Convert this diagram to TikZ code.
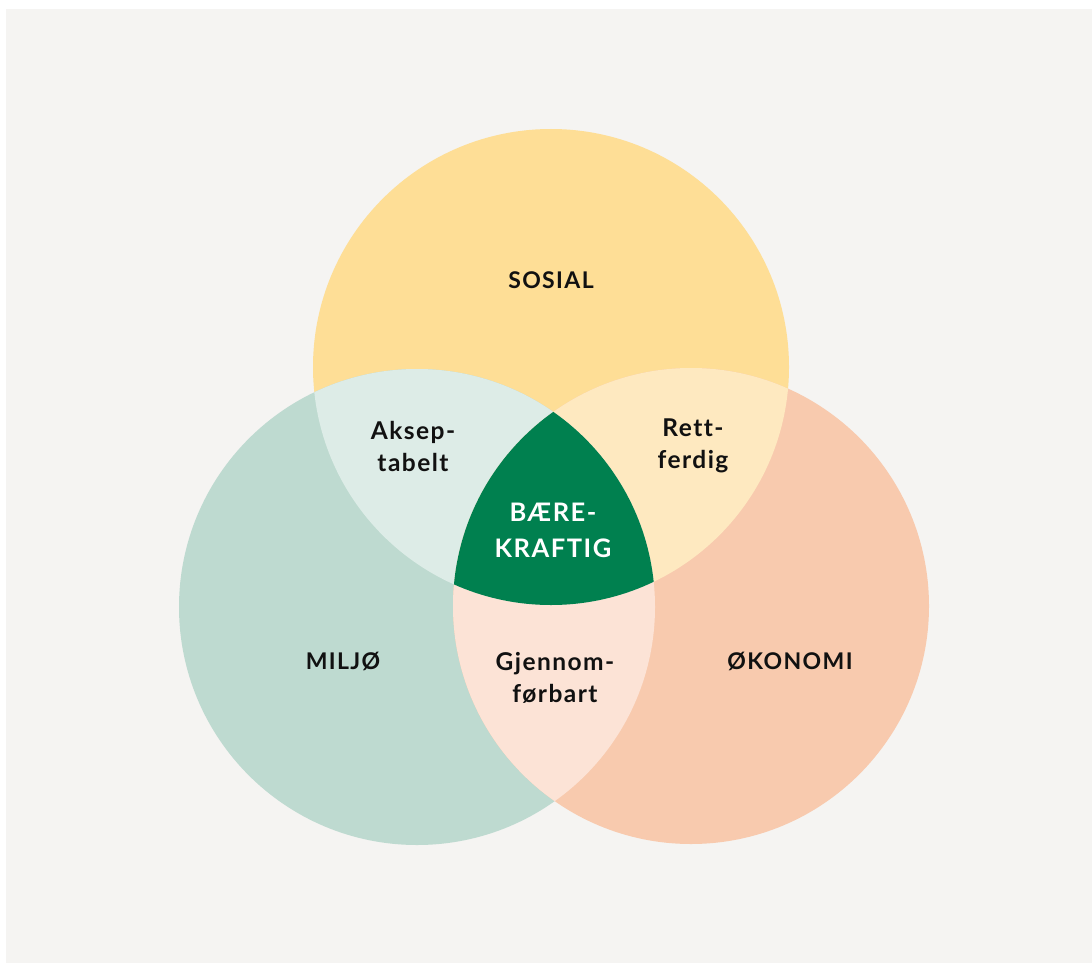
\documentclass[tikz,border=0pt]{standalone}
\usepackage{fontspec}
\setmainfont{Lato}[UprightFont=* Bold, LetterSpace=6, Ligatures={NoCommon}]
\definecolor{bg}{HTML}{F5F4F2}
\definecolor{csos}{HTML}{FEDE96}
\definecolor{cmil}{HTML}{BEDAD0}
\definecolor{coko}{HTML}{F8CAAE}
\definecolor{csm}{HTML}{DDECE7}
\definecolor{cso}{HTML}{FEE9C0}
\definecolor{cmo}{HTML}{FCE3D6}
\definecolor{cmid}{HTML}{00804F}
\definecolor{ink}{HTML}{111111}
\begin{document}
\begin{tikzpicture}[x=1pt,y=-1pt,
  lbl/.style={text=ink,font=\fontsize{23}{32}\selectfont,align=center,inner sep=0pt},
  sublbl/.style={text=ink,font=\fontsize{24.5}{32}\selectfont,align=center,inner sep=0pt},
  midlbl/.style={text=white,font=\fontsize{25.5}{36}\selectfont,align=center,inner sep=0pt}]
\useasboundingbox (0,0) rectangle (1092,963);
\fill[bg] (6,9) rectangle (1092,963);
\coordinate (S) at (551,367);
\coordinate (M) at (417,607);
\coordinate (O) at (691,606);
\def\R{238}
\fill[csos] (S) circle (\R);
\fill[cmil] (M) circle (\R);
\fill[coko] (O) circle (\R);
\begin{scope}\clip (S) circle (\R); \fill[csm] (M) circle (\R);\end{scope}
\begin{scope}\clip (S) circle (\R); \fill[cso] (O) circle (\R);\end{scope}
\begin{scope}\clip (M) circle (\R); \fill[cmo] (O) circle (\R);\end{scope}
\begin{scope}\clip (S) circle (\R); \clip (M) circle (\R); \fill[cmid] (O) circle (\R);\end{scope}
\node[lbl] (sosial) at (551,280) {SOSIAL};
\node[lbl] (miljo) at (343,661) {MILJØ};
\node[lbl] (okonomi) at (790,661) {ØKONOMI};
\node[sublbl] (aksep) at (413,446) {Aksep-\\tabelt};
\node[sublbl] (rett) at (693,446) {Rett-\\ferdig};
\node[sublbl] (gjen) at (555,678) {Gjennom-\\førbart};
\node[midlbl] (baere) at (553,530) {BÆRE-\\KRAFTIG};
\end{tikzpicture}
\end{document}
